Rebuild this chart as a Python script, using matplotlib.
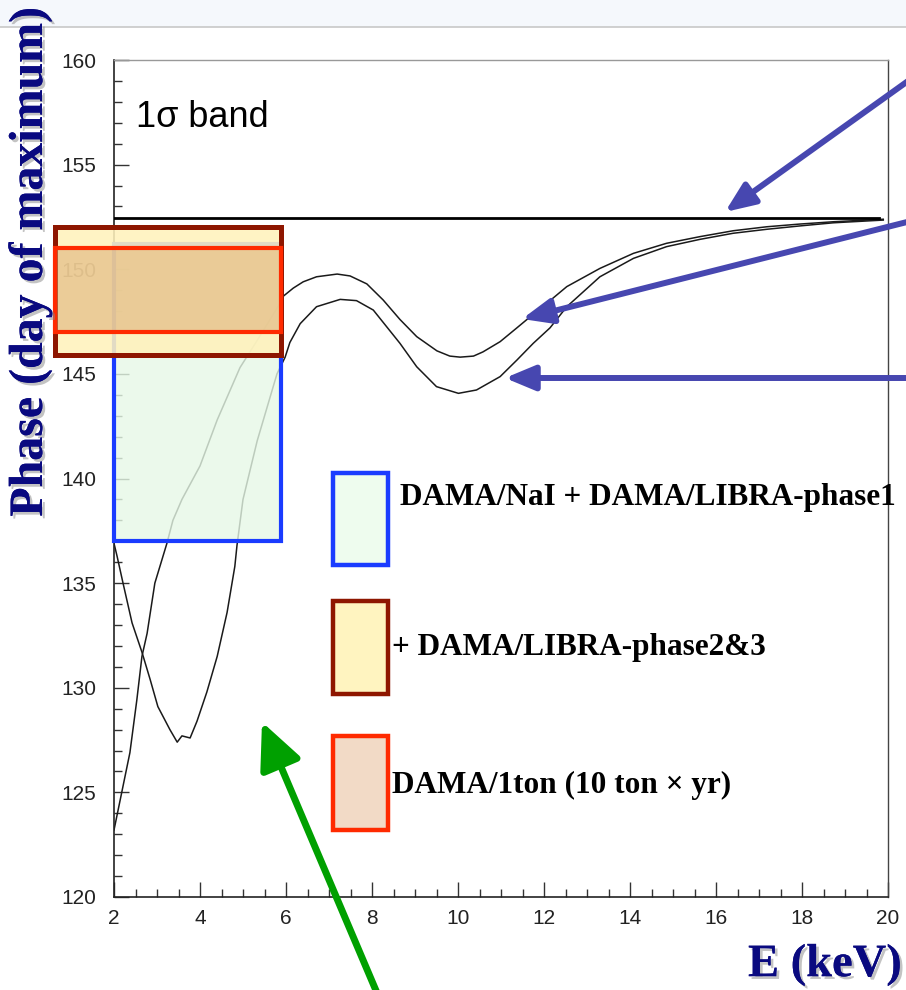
import matplotlib
matplotlib.use("Agg")
import matplotlib.pyplot as plt
import numpy as np
from matplotlib.patches import Rectangle, FancyArrowPatch, ArrowStyle
from matplotlib.lines import Line2D
import matplotlib.patheffects as pe
from matplotlib.ticker import MultipleLocator

# ---------------- data ----------------
# upper curve of the 1-sigma band (incl. rising low-energy branch)
upper_E = [2.00, 2.14, 2.37, 2.53, 2.65, 2.77, 2.95, 3.23, 3.37, 3.58, 4.00, 4.40,
           4.93, 5.33, 5.81, 5.93, 6.17, 6.40, 6.71, 7.19, 7.49, 7.88, 8.26, 8.65,
           9.04, 9.51, 9.81, 10.05, 10.36, 10.58, 10.98, 11.37, 11.75, 12.14, 12.53,
           13.30, 14.08, 14.85, 15.63, 16.40, 17.18, 17.95, 18.73, 19.89]
upper_phase = [123.2, 124.6, 126.9, 129.4, 131.5, 132.6, 135.0, 136.9, 138.0, 139.0,
               140.6, 142.8, 145.3, 146.6, 148.2, 148.7, 149.1, 149.4, 149.64, 149.77,
               149.68, 149.3, 148.53, 147.6, 146.78, 146.1, 145.85, 145.8, 145.85,
               146.05, 146.54, 147.2, 147.85, 148.5, 149.17, 150.04, 150.76, 151.24,
               151.56, 151.84, 152.03, 152.16, 152.27, 152.39]
# lower curve of the 1-sigma band (incl. dip at low energy)
lower_E = [2.00, 2.07, 2.21, 2.42, 2.65, 2.84, 3.02, 3.30, 3.47, 3.58, 3.77, 3.93,
           4.16, 4.40, 4.63, 4.81, 4.86, 5.00, 5.33, 5.79, 5.98, 6.09, 6.33, 6.71,
           7.26, 7.64, 8.03, 8.65, 9.04, 9.50, 10.01, 10.43, 10.98, 11.37, 11.75,
           12.14, 12.53, 13.30, 14.08, 14.85, 15.63, 16.40, 17.18, 17.95, 18.73, 19.89]
lower_phase = [136.9, 136.3, 135.0, 133.1, 131.7, 130.4, 129.1, 128.0, 127.4, 127.7,
               127.6, 128.4, 129.8, 131.5, 133.6, 135.8, 136.8, 139.0, 141.8, 145.0,
               145.8, 146.5, 147.4, 148.21, 148.56, 148.5, 148.05, 146.46, 145.34,
               144.39, 144.07, 144.23, 144.87, 145.66, 146.46, 147.2, 148.21, 149.64,
               150.52, 151.08, 151.43, 151.72, 151.91, 152.07, 152.22, 152.35]
# expected phase (no-band line)
ref_phase = 152.45
ref_E = [2.0, 19.8]

# measured phase boxes: (E_lo, E_hi, phase_lo, phase_hi)
box_nai_libra1 = (2.0, 5.88, 137.0, 151.2)
box_libra23 = (0.63, 5.88, 145.9, 152.0)
box_1ton = (0.63, 5.88, 147.0, 151.0)

legend_labels = ["DAMA/NaI + DAMA/LIBRA-phase1",
                 "+ DAMA/LIBRA-phase2&3",
                 "DAMA/1ton (10 ton \u00d7 yr)"]

x_ticks = [2, 4, 6, 8, 10, 12, 14, 16, 18, 20]
y_ticks = [120, 125, 130, 135, 140, 145, 150, 155, 160]

# ---------------- figure ----------------
W, H = 906, 990
fig = plt.figure(figsize=(W / 100, H / 100), dpi=100)

def fx(px):
    return px / W

def fy(py):
    return 1 - py / H

# top screenshot strip
fig.patches.append(Rectangle((0, fy(27)), 1, 27 / H, transform=fig.transFigure,
                             facecolor="#F5F8FC", edgecolor="none", zorder=0))
fig.lines.append(Line2D([0, 1], [fy(27), fy(27)], transform=fig.transFigure,
                        color="#C8C8C8", lw=1.2))

ax = fig.add_axes([fx(114), fy(897), fx(888) - fx(114), fy(60) - fy(897)])
ax.set_xlim(2, 20)
ax.set_ylim(120, 160)
ax.set_facecolor("none")

for s in ["left", "bottom"]:
    ax.spines[s].set_color("#222222")
    ax.spines[s].set_linewidth(1.2)
ax.spines["top"].set_color("#999999")
ax.spines["top"].set_linewidth(1.0)
ax.spines["right"].set_color("#444444")
ax.spines["right"].set_linewidth(1.0)

ax.set_xticks(x_ticks)
ax.set_yticks(y_ticks)
ax.xaxis.set_minor_locator(MultipleLocator(0.5))
ax.yaxis.set_minor_locator(MultipleLocator(1))
ax.tick_params(axis="both", which="major", direction="in", length=11, width=1.0,
               color="#333333", labelsize=15, labelcolor="#222222")
ax.tick_params(axis="both", which="minor", direction="in", length=6, width=1.0,
               color="#333333")
ax.tick_params(axis="y", which="major", pad=13)
ax.tick_params(axis="x", which="major", pad=9)
for lab in ax.get_xticklabels() + ax.get_yticklabels():
    lab.set_fontfamily("Liberation Sans")

# curves
ax.plot(ref_E, [ref_phase, ref_phase], color="black", lw=2.0, zorder=3)
ax.plot(upper_E, upper_phase, color="#1a1a1a", lw=1.1, zorder=2)
ax.plot(lower_E, lower_phase, color="#1a1a1a", lw=1.1, zorder=2)

# boxes in the plot
def add_box(b, ec, fc, alpha, lw, z):
    r = Rectangle((b[0], b[2]), b[1] - b[0], b[3] - b[2], facecolor=fc,
                  edgecolor="none", alpha=alpha, zorder=z, clip_on=False)
    ax.add_patch(r)
    e = Rectangle((b[0], b[2]), b[1] - b[0], b[3] - b[2], facecolor="none",
                  edgecolor=ec, lw=lw, zorder=z + 0.1, clip_on=False)
    ax.add_patch(e)

add_box(box_nai_libra1, "#1A3CFF", "#E6F8E6", 0.8, 3.0, 4)
add_box(box_libra23, "#8E1600", "#FFF2BC", 0.88, 3.6, 5)
add_box(box_1ton, "#FF2A00", "#D9A66E", 0.5, 3.0, 6)

ax.text(0.028, 0.931, "1\u03c3 band", transform=ax.transAxes,
        fontsize=26, family=["Liberation Sans", "DejaVu Sans"], va="center",
        ha="left", color="black")

# legend boxes (figure pixels)
leg_boxes = [((333, 473, 388, 565), "#1A3CFF", "#EEFCEE"),
             ((333, 601, 388, 694), "#8E1600", "#FFF4C0"),
             ((333, 736, 388, 830), "#FF2A00", "#F2DAC6")]
for (x0, y0, x1, y1), ec, fc in leg_boxes:
    fig.patches.append(Rectangle((fx(x0), fy(y1)), fx(x1) - fx(x0), fy(y0) - fy(y1),
                                 transform=fig.transFigure, facecolor=fc,
                                 edgecolor=ec, lw=3.2, zorder=5))

leg_text_pos = [(400, 497), (392, 647), (392, 785)]
for (tx, ty), lab in zip(leg_text_pos, legend_labels):
    fig.text(fx(tx), fy(ty), lab, fontsize=22.5, fontweight="bold",
             family=["Liberation Serif", "DejaVu Serif"], va="center", ha="left",
             color="black")

# axis labels
shadow = [pe.withSimplePatchShadow(offset=(2, -2), shadow_rgbFace="#888888",
                                   alpha=0.5), pe.Normal()]
fig.text(fx(30), fy(262), "Phase (day of maximum)", rotation=90, fontsize=34.5,
         fontweight="bold", family="Liberation Serif", color="#0A0A80",
         ha="center", va="center", path_effects=shadow)
fig.text(fx(748), fy(965), "E (keV)", fontsize=33.5, fontweight="bold",
         family="Liberation Serif", color="#0A0A80", ha="left", va="center",
         path_effects=shadow)

# arrows
def arrow(p0, p1, color, lw, hl, hw):
    a = FancyArrowPatch((fx(p0[0]), fy(p0[1])), (fx(p1[0]), fy(p1[1])),
                        transform=fig.transFigure,
                        arrowstyle=ArrowStyle("-|>", head_length=hl, head_width=hw),
                        mutation_scale=10, color=color, lw=lw, zorder=10,
                        shrinkA=0, shrinkB=0)
    fig.patches.append(a)

blue = "#4747B0"
arrow((915, 76), (725, 212), blue, 4.3, 1.8, 0.75)
arrow((915, 220), (522, 319), blue, 4.3, 1.8, 0.75)
arrow((915, 378), (505, 378), blue, 4.3, 1.8, 0.75)
arrow((380, 1000), (262, 722), "#00A000", 5.0, 2.8, 1.3)

fig.savefig("out.png", dpi=100)
